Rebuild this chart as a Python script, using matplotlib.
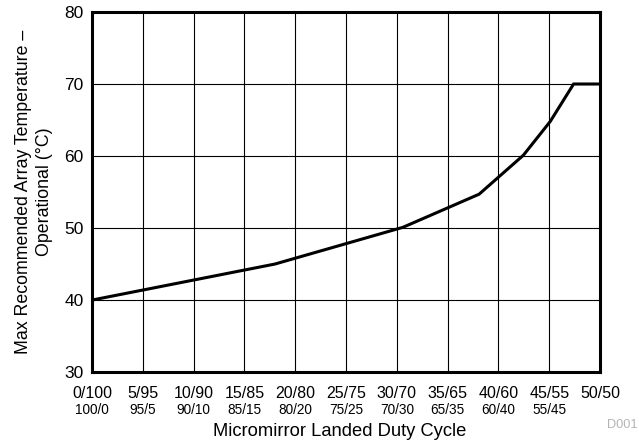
import matplotlib
matplotlib.use("Agg")
import matplotlib.pyplot as plt
import matplotlib.transforms as mtransforms

plt.rcParams['font.family'] = ['Liberation Sans', 'DejaVu Sans']

# duty cycle (x) vs max recommended array temperature (y)
duty = [0, 18, 30.6, 38.1, 42.45, 45.1, 47.4, 50]
temp = [40, 45, 50.1, 54.7, 60.1, 64.8, 70, 70]

xticks = [0, 5, 10, 15, 20, 25, 30, 35, 40, 45, 50]
top_labels = ['0/100', '5/95', '10/90', '15/85', '20/80', '25/75',
              '30/70', '35/65', '40/60', '45/55', '50/50']
bottom_labels = ['100/0', '95/5', '90/10', '85/15', '80/20', '75/25',
                 '70/30', '65/35', '60/40', '55/45']
yticks = [30, 40, 50, 60, 70, 80]

fig = plt.figure(figsize=(6.39, 4.44), dpi=100)
ax = fig.add_axes([0.144, 0.162, 0.795, 0.811])

ax.plot(duty, temp, color='black', lw=2.2, solid_joinstyle='miter', zorder=3)

ax.set_xlim(0, 50)
ax.set_ylim(30, 80)
ax.set_xticks(xticks)
ax.set_xticklabels(top_labels, fontsize=11.5)
ax.set_yticks(yticks)
ax.set_yticklabels([str(v) for v in yticks], fontsize=12.5)
ax.tick_params(length=0, pad=6)
ax.tick_params(axis='x', pad=10)

ax.grid(True, color='black', lw=0.8)
for s in ax.spines.values():
    s.set_linewidth(2.2)

# second row of duty cycle labels
trans = mtransforms.blended_transform_factory(ax.transData, fig.transFigure)
for x, lab in zip(xticks, bottom_labels):
    ax.text(x, 1 - 410 / 444, lab, transform=trans, ha='center', va='center',
            fontsize=9.8)

ax.set_xlabel('Micromirror Landed Duty Cycle', fontsize=13.2, va='center')
ax.xaxis.set_label_coords(0.488, -0.164)
ax.set_ylabel('Max Recommended Array Temperature –\nOperational (°C)',
              fontsize=12.8, labelpad=8, linespacing=1.3)

fig.text(622 / 639, 1 - 425 / 444, 'D001', color='#b4b4b4', fontsize=9.2,
         ha='center', va='center')

fig.savefig('out.png', dpi=100)
